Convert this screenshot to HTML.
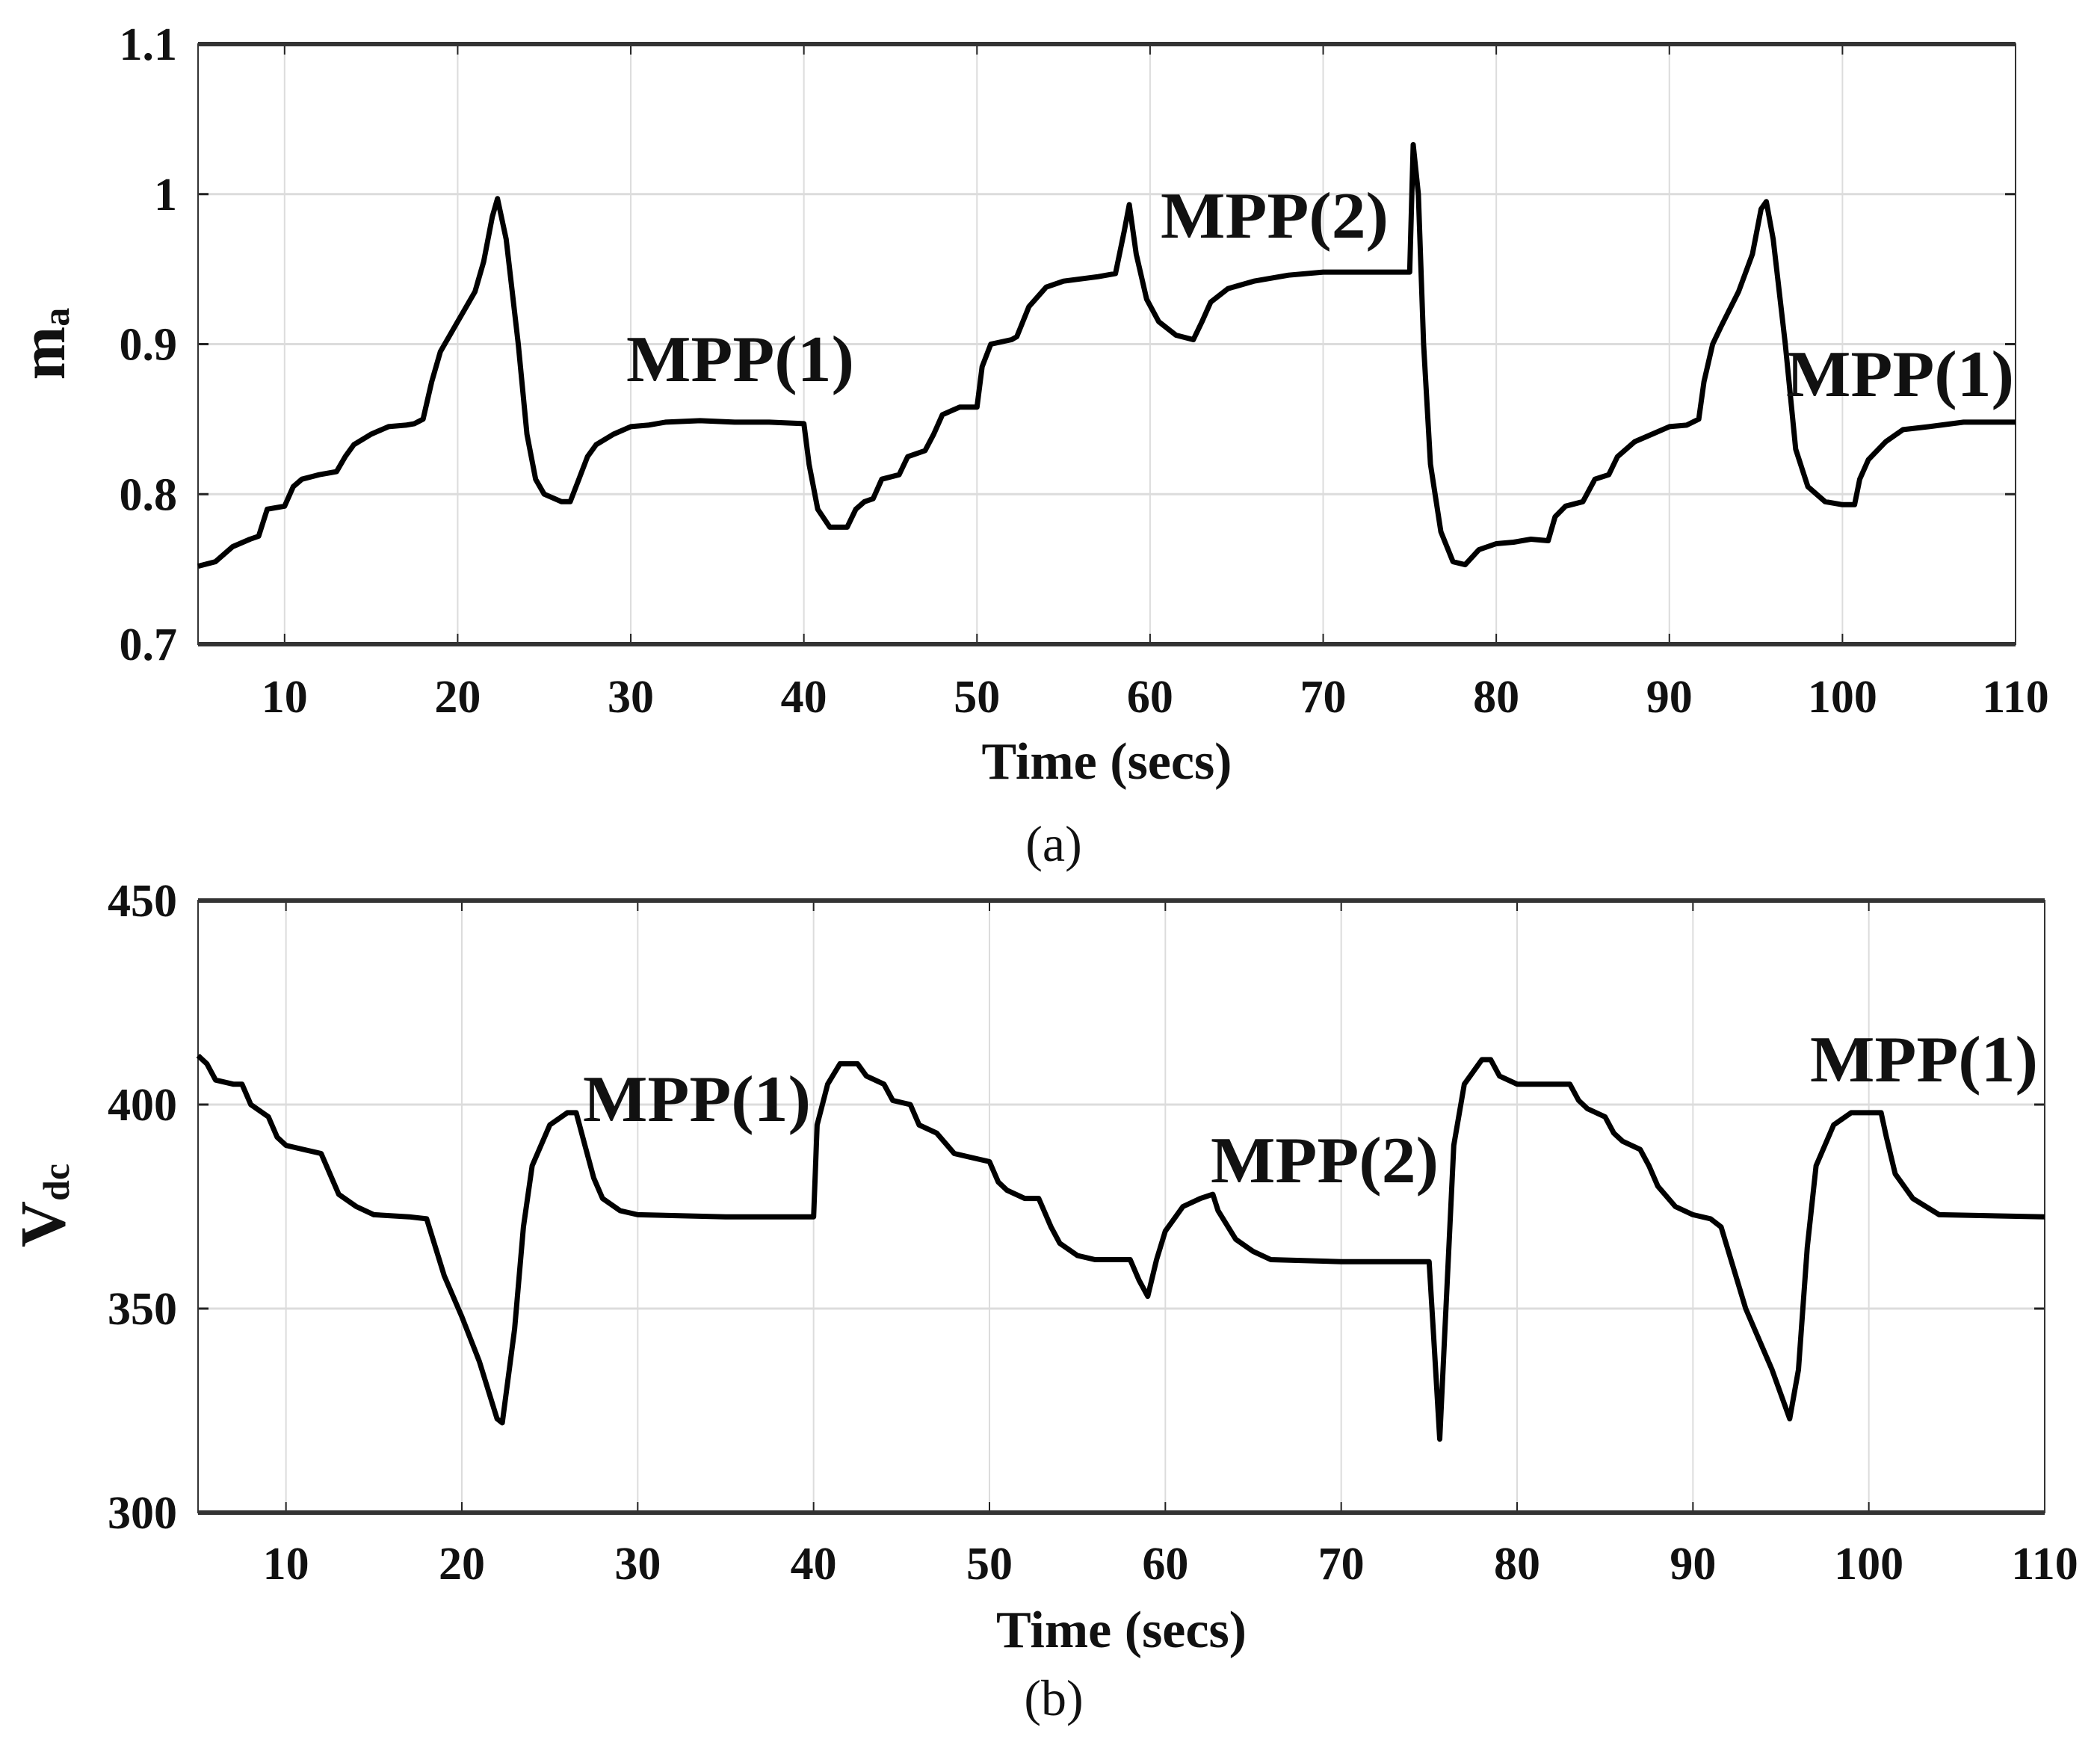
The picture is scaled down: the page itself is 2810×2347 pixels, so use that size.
<!DOCTYPE html>
<html><head><meta charset="utf-8">
<style>
body{margin:0;background:#fff;}
svg{display:block;}
text{font-family:"Liberation Serif",serif;fill:#111;}
.tk{font-weight:bold;font-size:62px;}
</style></head>
<body>
<svg id="chart" width="2810" height="2347" viewBox="0 0 2810 2347" xmlns="http://www.w3.org/2000/svg">
<g id="pa"></g>
<g id="pb"></g>
</svg>
<script>
const xTicks=[10,20,30,40,50,60,70,80,90,100,110];
const maTicks=[0.7,0.8,0.9,1,1.1];
const maTickLabels=["0.7","0.8","0.9","1","1.1"];
const vTicks=[300,350,400,450];
const vTickLabels=["300","350","400","450"];
const maT=[5,6,7,8,8.5,9,10,10.5,11,12,13,13.5,14,15,16,17,17.5,18,18.5,19,20,21,21.5,22,22.3,22.8,23.5,24,24.5,25,26,26.5,27,27.5,28,29,30,31,32,34,36,38,40,40.3,40.8,41.5,42.5,43,43.5,44,44.5,45.5,46,47,47.5,48,49,50,50.3,50.8,52,52.3,53,54,55,57,58,58.5,58.8,59.2,59.8,60.5,61.5,62.5,63,63.5,64.5,66,68,70,75,75.2,75.5,75.8,76.2,76.8,77.5,78.2,79,80,81,82,83,83.4,84,85,85.7,86.5,87,88,89,90,91,91.7,92,92.5,93,94,94.8,95.3,95.6,96,96.7,97.3,98,99,100,100.7,101,101.5,102.5,103.5,105,107,110];
const maV=[0.752,0.755,0.765,0.77,0.772,0.79,0.792,0.805,0.81,0.813,0.815,0.825,0.833,0.84,0.845,0.846,0.847,0.85,0.875,0.895,0.915,0.935,0.955,0.985,0.997,0.97,0.9,0.84,0.81,0.8,0.795,0.795,0.81,0.825,0.833,0.84,0.845,0.846,0.848,0.849,0.848,0.848,0.847,0.82,0.79,0.778,0.778,0.79,0.795,0.797,0.81,0.813,0.825,0.829,0.84,0.853,0.858,0.858,0.885,0.9,0.903,0.905,0.925,0.938,0.942,0.945,0.947,0.975,0.993,0.96,0.93,0.915,0.906,0.903,0.915,0.928,0.937,0.942,0.946,0.948,0.948,1.033,1.0,0.9,0.82,0.775,0.755,0.753,0.763,0.767,0.768,0.77,0.769,0.785,0.792,0.795,0.81,0.813,0.825,0.835,0.84,0.845,0.846,0.85,0.875,0.9,0.912,0.935,0.96,0.99,0.995,0.97,0.9,0.83,0.805,0.795,0.793,0.793,0.81,0.823,0.835,0.843,0.845,0.848,0.848];
const vT=[5,5.5,6,7,7.5,8,9,9.5,10,11,12,12.5,13,14,15,17,18,19,20,21,22,22.3,23,23.5,24,25,26,26.5,27,27.5,28,29,30,35,40,40.2,40.8,41.5,42.5,43,44,44.5,45.5,46,47,48,49,50,50.5,51,52,52.8,53.5,54,55,56,58,58.5,59,59.5,60,61,62,62.7,63,64,65,66,70,75,75.3,75.6,75.9,76.4,77,78,78.5,79,80,83,83.5,84,85,85.5,86,87,87.5,88,89,90,91,91.6,93,94.5,95.5,96,96.5,97,98,99,100.7,101,101.5,102.5,104,110];
const vV=[412,410,406,405,405,400,397,392,390,389,388,383,378,375,373,372.5,372,358,348,337,323,322,345,370,385,395,398,398,390,382,377,374,373,372.5,372.5,395,405,410,410,407,405,401,400,395,393,388,387,386,381,379,377,377,370,366,363,362,362,357,353,362,369,375,377,378,374,367,364,362,361.5,361.5,340,318,345,390,405,411,411,407,405,405,401,399,397,393,391,389,385,380,375,373,372,370,350,335,323,335,365,385,395,398,398,392,383,377,373,372.5];
const NS="http://www.w3.org/2000/svg";
function mk(p,tag,at){const e=document.createElementNS(NS,tag);for(const k in at)e.setAttribute(k,at[k]);p.appendChild(e);return e;}
function panel(g,cfg){
  const {L,R,T,B,ymin,ymax,yt,ytl,xs,ys,tickY,titleY,capY,cap,notes,ylab,ylabX,ylabY,sub}=cfg;
  const X=v=>L+(v-5)/(110-5)*(R-L);
  const Y=v=>B-(v-ymin)/(ymax-ymin)*(B-T);
  xTicks.forEach(t=>{
    const l=mk(g,'line',{x1:X(t),x2:X(t),y1:T,y2:B,stroke:'#dcdcdc','stroke-width':2});
    
    
    mk(g,'line',{x1:X(t),x2:X(t),y1:B,y2:B-14,stroke:'#222','stroke-width':2});
    mk(g,'line',{x1:X(t),x2:X(t),y1:T,y2:T+14,stroke:'#222','stroke-width':2});
    const tx=mk(g,'text',{x:X(t),y:tickY,'text-anchor':'middle',class:'tk'});
    tx.textContent=t;
    
    
  });
  yt.forEach((v,i)=>{
    const l=mk(g,'line',{x1:L,x2:R,y1:Y(v),y2:Y(v),stroke:'#dcdcdc','stroke-width':3});
    
    
    mk(g,'line',{x1:L,x2:L+14,y1:Y(v),y2:Y(v),stroke:'#222','stroke-width':3});
    mk(g,'line',{x1:R,x2:R-14,y1:Y(v),y2:Y(v),stroke:'#222','stroke-width':3});
    const tx=mk(g,'text',{x:L-28,y:Y(v)+21,'text-anchor':'end',class:'tk'});
    tx.textContent=ytl[i];
    
    
  });
  const fr=mk(g,'rect',{x:L,y:T,width:R-L,height:B-T,fill:'none',stroke:'#333','stroke-width':2});
  
  
  mk(g,'line',{x1:L,x2:R,y1:T,y2:T,stroke:'#333','stroke-width':6});
  mk(g,'line',{x1:L,x2:R,y1:B,y2:B,stroke:'#333','stroke-width':6});
  let d='';xs.forEach((t,i)=>{d+=(i?'L':'M')+X(t).toFixed(1)+','+Y(ys[i]).toFixed(1);});
  const p=mk(g,'path',{d:d,fill:'none',stroke:'#000','stroke-width':7,'stroke-linejoin':'round'});
  
  
  notes.forEach(n=>{
    const tx=mk(g,'text',{x:n[0],y:n[1],'font-size':88,'font-weight':'bold','text-anchor':'start',textLength:305,lengthAdjust:'spacingAndGlyphs'});
    tx.textContent='MPP('+n[2]+')';
    
    
  });
  const tt=mk(g,'text',{x:(L+R)/2,y:titleY,'text-anchor':'middle','font-size':70,'font-weight':'bold'});
  tt.textContent='Time (secs)';
  
  
  const yl=mk(g,'text',{x:ylabX,y:ylabY,'text-anchor':'middle','font-size':86,'font-weight':'bold',transform:`rotate(-90 ${ylabX} ${ylabY})`});
  yl.innerHTML=ylab+`<tspan font-size="50" dy="6">${sub}</tspan>`;
  
  
  const c=mk(g,'text',{x:1410,y:capY,'text-anchor':'middle','font-size':68});
  c.textContent=cap;
  
  
}
panel(document.getElementById('pa'),{L:265,R:2697,T:59,B:862,ymin:0.7,ymax:1.1,yt:maTicks,ytl:maTickLabels,xs:maT,ys:maV,tickY:953,titleY:1042,capY:1152,cap:'(a)',
 notes:[[838,510,1],[1553,318,2],[2390,530,1]],ylab:'m',sub:'a',ylabX:86,ylabY:460});
panel(document.getElementById('pb'),{L:265,R:2736,T:1205,B:2024,ymin:300,ymax:450,yt:vTicks,ytl:vTickLabels,xs:vT,ys:vV,tickY:2113,titleY:2204,capY:2295,cap:'(b)',
 notes:[[780,1500,1],[1620,1582,2],[2422,1447,1]],ylab:'V',sub:'dc',ylabX:86,ylabY:1613});
</script>
</body></html>
